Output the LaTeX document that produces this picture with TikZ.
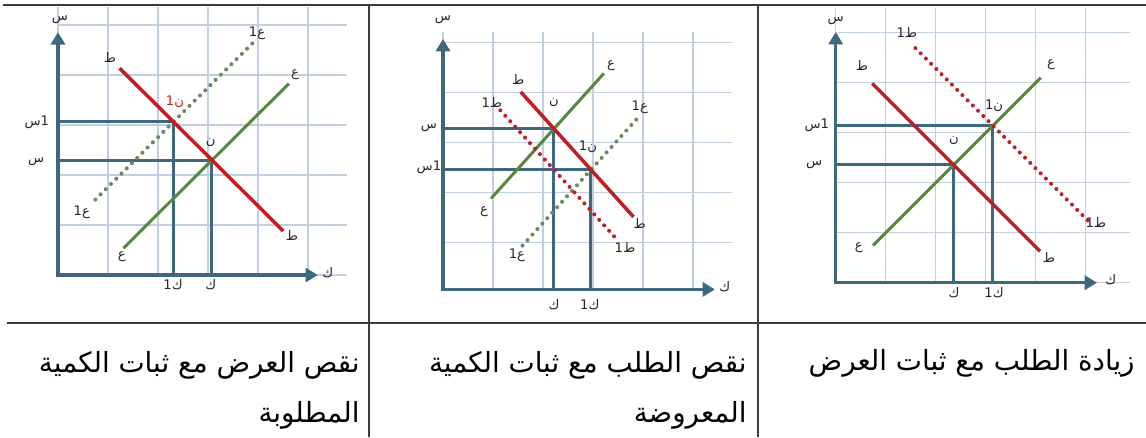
\documentclass[tikz,border=0pt]{standalone}
\usepackage{fontspec}
\usetikzlibrary{arrows.meta}
\newfontfamily\arabicfont[Script=Arabic]{DejaVu Sans}
\TeXXeTstate=1
\definecolor{gridblue}{RGB}{192,208,224}
\definecolor{axisteal}{RGB}{62,104,126}
\definecolor{demred}{RGB}{192,30,36}
\definecolor{supgreen}{RGB}{88,134,58}
\definecolor{supdot}{RGB}{104,138,92}
\definecolor{rulegray}{RGB}{60,60,60}
\newcommand{\ar}[1]{{\arabicfont\beginR #1\endR}}

\begin{document}
\begin{tikzpicture}[
  x=0.02cm, y=-0.02cm,
  gridline/.style={draw=gridblue, line width=0.65pt},
  axisline/.style={draw=axisteal, line width=2pt, line join=miter,
    {Triangle[length=7pt,width=8pt]}-{Triangle[length=7pt,width=8pt]}},
  guide/.style={draw=axisteal, line width=1.7pt},
  dem/.style={draw=demred, line width=2pt},
  sup/.style={draw=supgreen, line width=1.7pt},
  demshift/.style={draw=demred, line width=2.3pt, line cap=round,
    dash pattern=on 0pt off 4.2pt},
  supshift/.style={draw=supdot, line width=2.3pt, line cap=round,
    dash pattern=on 0pt off 4.2pt},
  lbl/.style={font=\arabicfont\fontsize{7.5}{8}\selectfont, text=black!85,
    inner sep=0.5pt},
  captext/.style={font=\arabicfont\fontsize{15.8}{18}\selectfont, anchor=base east,
    inner sep=0pt},
]
\useasboundingbox (0,0) rectangle (1146,437);
%% Table rules
\draw[rulegray, line width=1.1pt] (3,5) -- (1146,5);
\draw[rulegray, line width=0.95pt] (7,323) -- (1146,323);
\draw[rulegray, line width=0.75pt] (369,5) -- (369,437);
\draw[rulegray, line width=0.75pt] (758,5) -- (758,437);

%% Panel 1: supply shift
\begin{scope}[shift={(58,275)}, x=0.77cm, y=0.766cm]
  \draw[gridline] (0,0) grid (7.5,7);
  \coordinate (aN) at (4,3);
  \coordinate (aN1) at (3,4);
  \draw[guide] (0,3) -| (aN) -- (4,0);
  \draw[guide] (0,4) -| (aN1) -- (3,0);
  \draw[sup] (1.7,0.7) -- (6,5);
  \draw[supshift] (0.97,1.97) -- (5.07,6.07);
  \draw[dem] (1.6,5.4) -- (5.85,1.15);
  \draw[axisline] (0,6.34) -- (0,0) -- (6.75,0);
  \node[lbl] (aP) at (0.05,6.66) {\ar{س}};
  \node[lbl] (aQ) at (7.01,0.05) {\ar{ك}};
  \node[lbl] (aDt) at (1.35,5.69) {\ar{ط}};
  \node[lbl] (aDb) at (6.08,1.04) {\ar{ط}};
  \node[lbl] (aSt) at (6.16,5.22) {\ar{ع}};
  \node[lbl] (aSb) at (1.66,0.47) {\ar{ع}};
  \node[lbl] (aS1t) at (5.17,6.32) {1\ar{ع}};
  \node[lbl] (aS1b) at (0.62,1.64) {1\ar{ع}};
  \node[lbl] (aNl) at (3.97,3.47) {\ar{ن}};
  \node[lbl, text=demred] (aN1l) at (3.04,4.52) {1\ar{ن}};
  \node[lbl] (aPl) at (-0.57,2.95) {\ar{س}};
  \node[lbl] (aP1l) at (-0.55,4.0) {\ar{س}1};
  \node[lbl] (aQl) at (3.97,-0.26) {\ar{ك}};
  \node[lbl] (aQ1l) at (2.99,-0.26) {1\ar{ك}};
\end{scope}

%% Panel 2: demand and supply shift
\begin{scope}[shift={(443,292.7)}, x=0.74cm, y=0.82cm]
  \draw[gridline] (0,0.08) grid (7.8,6.35);
  \coordinate (bN) at (3,4);
  \coordinate (bN1) at (4,3);
  \draw[guide] (0,4) -| (bN) -- (3,0.08);
  \draw[guide] (0,3) -| (bN1) -- (4,0.08);
  \draw[sup] (1.3,2.3) -- (4.35,5.35);
  \draw[supshift] (2.15,1.15) -- (5.25,4.25);
  \draw[demshift] (1.55,4.45) -- (4.7,1.3);
  \draw[dem] (2.1,4.9) -- (5.15,1.85);
  \draw[axisline] (0,6.19) -- (0,0.08) -- (7.35,0.08);
  \node[lbl] (bP) at (0,6.65) {\ar{س}};
  \node[lbl] (bQ) at (7.62,0.14) {\ar{ك}};
  \node[lbl] (bDt) at (2.03,5.19) {\ar{ط}};
  \node[lbl] (bDb) at (5.32,1.70) {\ar{ط}};
  \node[lbl] (bSt) at (4.54,5.55) {\ar{ع}};
  \node[lbl] (bSb) at (1.11,1.97) {\ar{ع}};
  \node[lbl] (bD1t) at (1.32,4.63) {1\ar{ط}};
  \node[lbl] (bD1b) at (4.92,1.11) {1\ar{ط}};
  \node[lbl] (bS1t) at (5.32,4.53) {1\ar{ع}};
  \node[lbl] (bS1b) at (2.0,0.92) {1\ar{ع}};
  \node[lbl] (bNl) at (3.0,4.63) {\ar{ن}};
  \node[lbl] (bN1l) at (3.92,3.55) {1\ar{ن}};
  \node[lbl] (bPl) at (-0.38,4.02) {\ar{س}};
  \node[lbl] (bP1l) at (-0.38,3.07) {\ar{س}1};
  \node[lbl] (bQl) at (3.0,-0.3) {\ar{ك}};
  \node[lbl] (bQ1l) at (3.97,-0.3) {1\ar{ك}};
\end{scope}

%% Panel 3: demand shift
\begin{scope}[shift={(835.7,282.7)}, x=0.786cm, y=0.786cm]
  \draw[gridline] (0,0) grid (7.5,7);
  \coordinate (cN) at (3,3);
  \coordinate (cN1) at (4,4);
  \draw[guide] (0,3) -| (cN) -- (3,0);
  \draw[guide] (0,4) -| (cN1) -- (4,0);
  \draw[sup] (0.95,0.95) -- (5.22,5.22);
  \draw[demshift] (2.03,5.97) -- (6.45,1.55);
  \draw[dem] (0.93,5.07) -- (5.2,0.8);
  \draw[axisline] (0,6.38) -- (0,0) -- (6.65,0);
  \node[lbl] (cP) at (0,6.68) {\ar{س}};
  \node[lbl] (cQ) at (7.0,0.07) {\ar{ك}};
  \node[lbl] (cD1t) at (1.81,6.38) {1\ar{ط}};
  \node[lbl] (cD1b) at (6.62,1.52) {1\ar{ط}};
  \node[lbl] (cDt) at (0.67,5.54) {\ar{ط}};
  \node[lbl] (cDb) at (5.43,0.63) {\ar{ط}};
  \node[lbl] (cSt) at (5.48,5.54) {\ar{ع}};
  \node[lbl] (cSb) at (0.59,0.88) {\ar{ع}};
  \node[lbl] (cN1l) at (4.03,4.5) {1\ar{ن}};
  \node[lbl] (cNl) at (3.01,3.63) {\ar{ن}};
  \node[lbl] (cP1l) at (-0.48,4.01) {\ar{س}1};
  \node[lbl] (cPl) at (-0.55,3.0) {\ar{س}};
  \node[lbl] (cQl) at (3.01,-0.26) {\ar{ك}};
  \node[lbl] (cQ1l) at (4.03,-0.26) {1\ar{ك}};
\end{scope}

%% Captions
\node[captext] (capAa) at (360,372) {\ar{نقص العرض مع ثبات الكمية}};
\node[captext] (capAb) at (360,422) {\ar{المطلوبة}};
\node[captext] (capBa) at (747,372) {\ar{نقص الطلب مع ثبات الكمية}};
\node[captext] (capBb) at (747,422) {\ar{المعروضة}};
\node[captext] (capC) at (1135,370) {\ar{زيادة الطلب مع ثبات العرض}};
\end{tikzpicture}
\end{document}
